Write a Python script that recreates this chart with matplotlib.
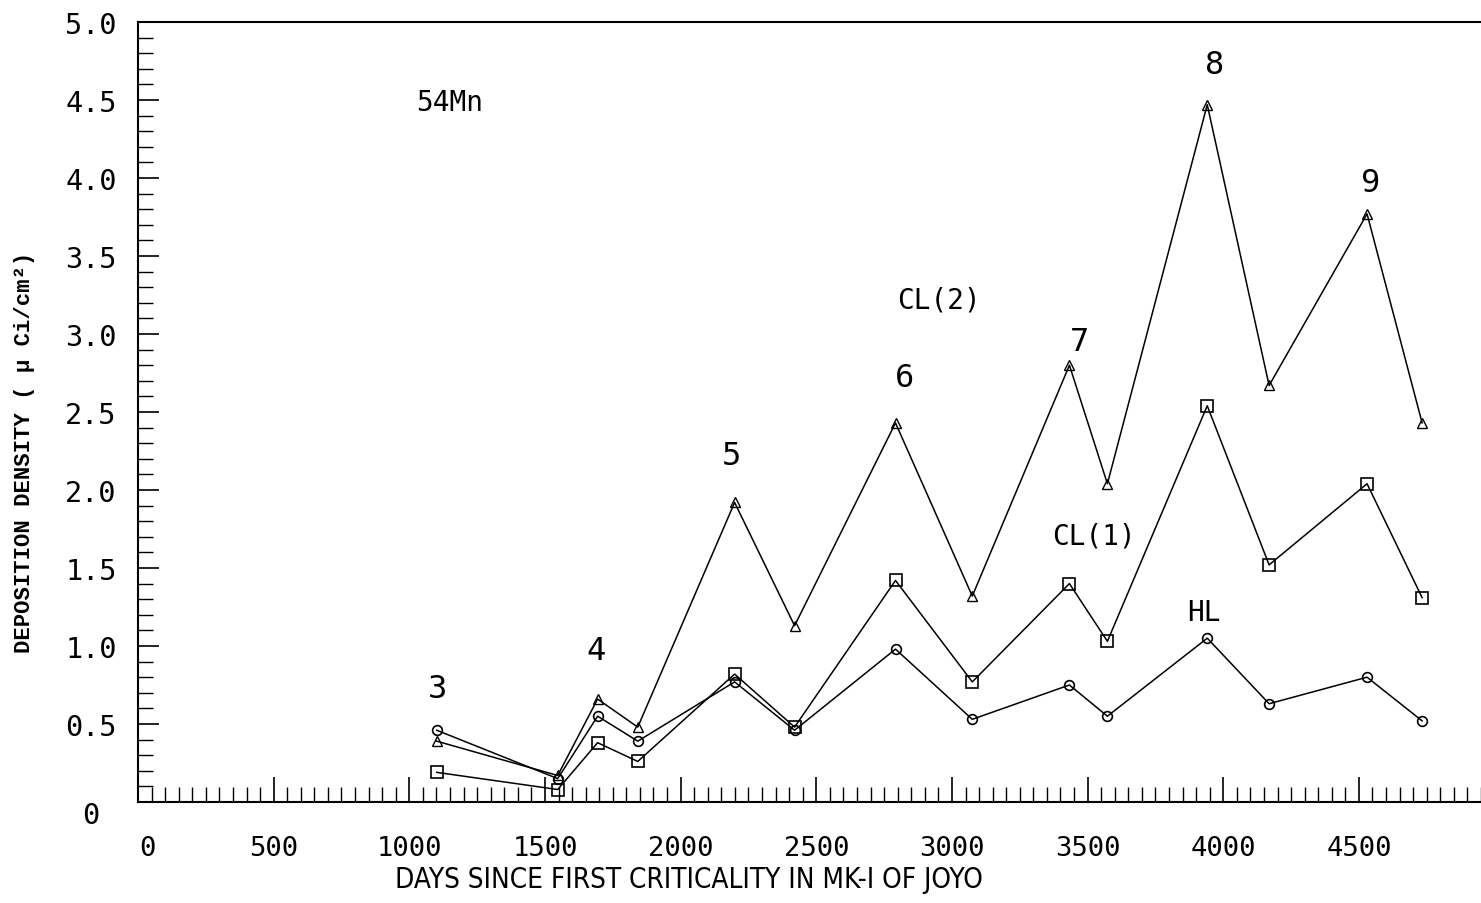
import matplotlib
matplotlib.use("Agg")
import matplotlib.pyplot as plt
import matplotlib.transforms as mtransforms
from matplotlib.ticker import MultipleLocator, FixedLocator
from matplotlib import font_manager as fm

# ---- data ----
days = [1101, 1547, 1694, 1842, 2199, 2420, 2792, 3075, 3433, 3573, 3941, 4169, 4530, 4733]
cl2 = [0.39, 0.17, 0.66, 0.48, 1.92, 1.13, 2.43, 1.32, 2.80, 2.04, 4.47, 2.67, 3.77, 2.43]
cl1 = [0.19, 0.08, 0.38, 0.26, 0.82, 0.48, 1.42, 0.77, 1.40, 1.03, 2.54, 1.52, 2.04, 1.31]
hl = [0.46, 0.15, 0.55, 0.39, 0.77, 0.46, 0.98, 0.53, 0.75, 0.55, 1.05, 0.63, 0.80, 0.52]

cycle_labels = ["3", "4", "5", "6", "7", "8", "9"]
cycle_x = [1105, 1687, 2188, 2825, 3470, 3967, 4545]
cycle_y = [0.73, 0.97, 2.22, 2.72, 2.95, 4.73, 3.97]

series_labels = ["CL(2)", "CL(1)", "HL"]
series_lx = [2954, 3525, 3930]
series_ly = [3.22, 1.71, 1.22]

x_ticks = [0, 500, 1000, 1500, 2000, 2500, 3000, 3500, 4000, 4500]
y_ticks = [0, 0.5, 1.0, 1.5, 2.0, 2.5, 3.0, 3.5, 4.0, 4.5, 5.0]
y_ticklabels = ["0", "0.5", "1.0", "1.5", "2.0", "2.5", "3.0", "3.5", "4.0", "4.5", "5.0"]

MONO = "DejaVu Sans Mono"


def cond(size):
    return fm.FontProperties(family="DejaVu Sans", stretch="condensed", weight="light", size=size)


fig = plt.figure(figsize=(14.81, 9.04), dpi=100)
ax = fig.add_axes([138 / 1481, 1 - 803 / 904, 1 - 138 / 1481, (803 - 23) / 904])

lw = 1.1
ax.plot(days, cl2, color="black", lw=lw, marker="^", ms=7, mfc="none", mec="black", mew=1.0)
ax.plot(days, cl1, color="black", lw=lw, marker="s", ms=9, mfc="none", mec="black", mew=1.2)
ax.plot(days, hl, color="black", lw=lw, marker="o", ms=7, mfc="none", mec="black", mew=1.2)

ax.set_xlim(0, 4950)
ax.set_ylim(0, 5.0)

ax.xaxis.set_major_locator(FixedLocator(x_ticks))
ax.xaxis.set_minor_locator(MultipleLocator(50))
ax.yaxis.set_major_locator(FixedLocator(y_ticks))
ax.yaxis.set_minor_locator(MultipleLocator(0.1))
ax.set_xticklabels([str(t) for t in x_ticks])
ax.set_yticklabels(y_ticklabels)

ax.tick_params(axis="x", which="major", direction="in", length=18, width=1.2, pad=24)
ax.tick_params(axis="x", which="minor", direction="in", length=11, width=1.0)
ax.tick_params(axis="y", which="major", direction="in", length=15, width=1.2, pad=34)
ax.tick_params(axis="y", which="minor", direction="in", length=11, width=1.0)
ax.tick_params(top=False, right=False)

for lab in ax.get_xticklabels():
    lab.set_family(MONO)
    lab.set_fontsize(19.5)
for lab in ax.get_yticklabels():
    lab.set_family(MONO)
    lab.set_fontsize(20.5)
    lab.set_horizontalalignment("center")

# the "0" label on the y axis sits a little below the axis line in the reference
ylab0 = ax.get_yticklabels()[0]
ylab0.set_transform(ylab0.get_transform() + mtransforms.ScaledTranslation(0, -10 / 100, fig.dpi_scale_trans))
xlab0 = ax.get_xticklabels()[0]
xlab0.set_transform(xlab0.get_transform() + mtransforms.ScaledTranslation(9 / 100, 0, fig.dpi_scale_trans))

ax.spines["right"].set_visible(False)
for s in ["left", "bottom", "top"]:
    ax.spines[s].set_linewidth(1.5)

ax.set_xlabel("DAYS SINCE FIRST CRITICALITY IN MK-I OF JOYO", fontproperties=cond(20))
ax.xaxis.set_label_coords((689 - 138) / (1481 - 138), -(880 - 803) / (803 - 23))
ax.xaxis.label.set_verticalalignment("center")
fig.text(25 / 1481, 1 - 452 / 904, "DEPOSITION DENSITY ( μ Ci/cm²)", rotation=90,
         ha="center", va="center", family=["Liberation Mono", "DejaVu Sans Mono"],
         fontweight="bold", fontsize=16)

ax.text(1149, 4.49, "54Mn", family=MONO, fontsize=20, ha="center", va="center")
for lab, x, y in zip(cycle_labels, cycle_x, cycle_y):
    ax.text(x, y, lab, family=MONO, fontsize=23, ha="center", va="center")
for lab, x, y in zip(series_labels, series_lx, series_ly):
    ax.text(x, y, lab, family=MONO, fontsize=20, ha="center", va="center")

fig.savefig("out.png", dpi=100, facecolor="white")
